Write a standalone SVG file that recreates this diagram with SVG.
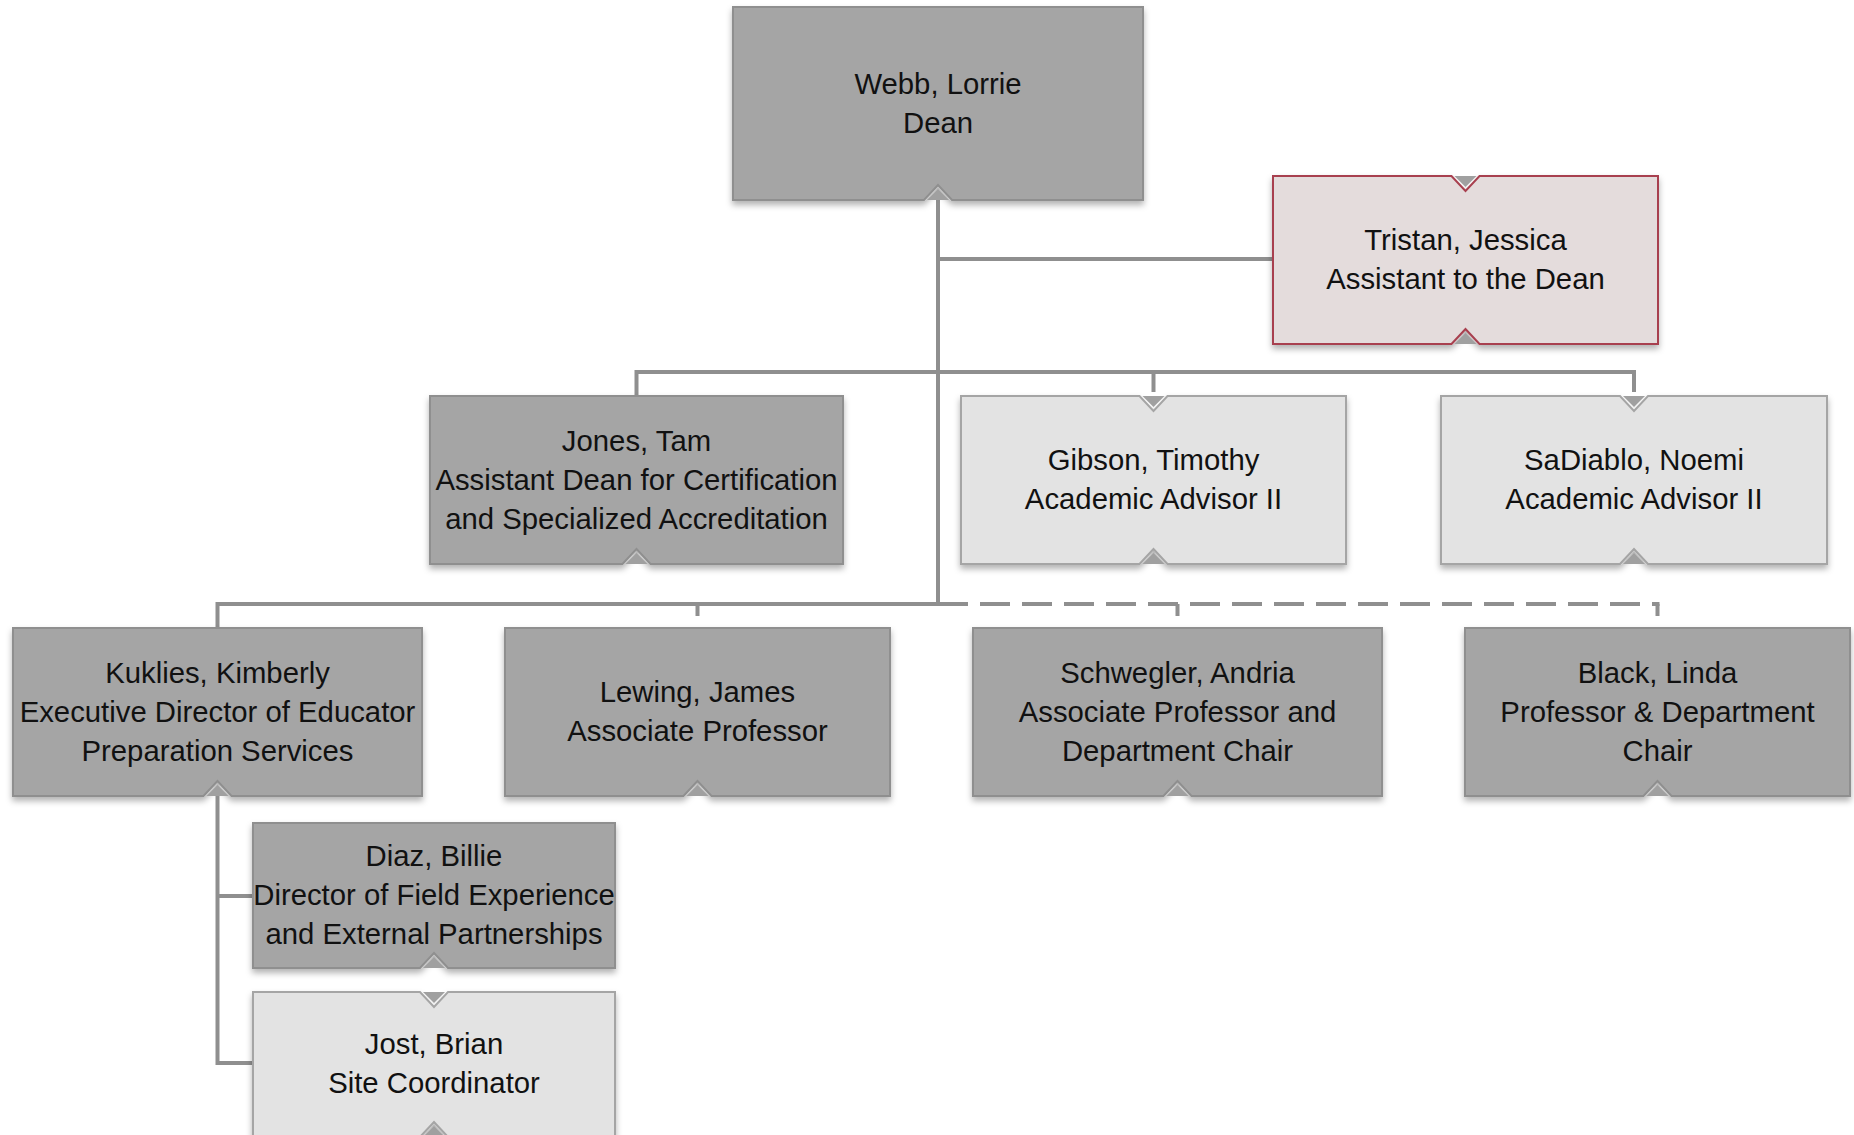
<svg xmlns="http://www.w3.org/2000/svg" width="1854" height="1135" viewBox="0 0 1854 1135">
<style>
.dark{fill:#a5a5a5;stroke:#8f8f8f;stroke-width:2;filter:url(#sh)}
.light{fill:#e3e3e3;stroke:#a5a5a5;stroke-width:2;filter:url(#sh)}
.pink{fill:#e4dcdc;stroke:#a8404f;stroke-width:2;filter:url(#sh)}
.tri{fill:#a0a0a0}
.conn{fill:none;stroke:#8f8f8f;stroke-width:4;stroke-linejoin:miter;stroke-linecap:butt}
.dash{stroke-dasharray:30 12}
text{font-family:"Liberation Sans",Arial,sans-serif;font-size:29.3px;fill:#111;text-anchor:middle}
</style>
<defs>
<filter id="sh" x="-10%" y="-10%" width="120%" height="130%">
<feDropShadow dx="0" dy="4" stdDeviation="3" flood-color="#000" flood-opacity="0.3"/>
</filter>
</defs>
<rect width="1854" height="1135" fill="#fff"/>
<g id="connectors">
<path class="conn" d="M938,200 V604"/>
<path class="conn" d="M938,259 H1273"/>
<path class="conn" d="M636.5,396 V372 H1634 V392"/>
<path class="conn" d="M1153.5,372 V392"/>
<path class="conn" d="M217.5,628 V604 H938"/>
<path class="conn" d="M697.5,604 V616"/>
<path class="conn dash" d="M938,604 H1659.5"/>
<path class="conn" d="M1177.5,604 V616"/>
<path class="conn" d="M1657.5,604 V616"/>
<path class="conn" d="M217.5,796 V1063 H253"/>
<path class="conn" d="M217.5,896 H253"/>
</g>
<g id="webb">
<path class="dark" d="M733,7 H1143 V200 H952 L938,185 L924,200 H733 Z"/>
<path class="tri" d="M927,200 L938,189 L949,200 Z"/>
<text x="938" y="93.5">Webb, Lorrie</text>
<text x="938" y="132.5">Dean</text>
</g>
<g id="tristan">
<path class="pink" d="M1273,176 H1451.5 L1465.5,191 L1479.5,176 H1658 V344 H1479.5 L1465.5,329 L1451.5,344 H1273 Z"/>
<path class="tri" d="M1454.5,176 L1465.5,187 L1476.5,176 Z"/>
<path class="tri" d="M1454.5,344 L1465.5,333 L1476.5,344 Z"/>
<text x="1465.5" y="250">Tristan, Jessica</text>
<text x="1465.5" y="289">Assistant to the Dean</text>
</g>
<g id="jones">
<path class="dark" d="M430,396 H843 V564 H650.5 L636.5,549 L622.5,564 H430 Z"/>
<path class="tri" d="M625.5,564 L636.5,553 L647.5,564 Z"/>
<text x="636.5" y="450.5">Jones, Tam</text>
<text x="636.5" y="489.5">Assistant Dean for Certification</text>
<text x="636.5" y="528.5">and Specialized Accreditation</text>
</g>
<g id="gibson">
<path class="light" d="M961,396 H1139.5 L1153.5,411 L1167.5,396 H1346 V564 H1167.5 L1153.5,549 L1139.5,564 H961 Z"/>
<path class="tri" d="M1142.5,396 L1153.5,407 L1164.5,396 Z"/>
<path class="tri" d="M1142.5,564 L1153.5,553 L1164.5,564 Z"/>
<text x="1153.5" y="470">Gibson, Timothy</text>
<text x="1153.5" y="509">Academic Advisor II</text>
</g>
<g id="sadiablo">
<path class="light" d="M1441,396 H1620 L1634,411 L1648,396 H1827 V564 H1648 L1634,549 L1620,564 H1441 Z"/>
<path class="tri" d="M1623,396 L1634,407 L1645,396 Z"/>
<path class="tri" d="M1623,564 L1634,553 L1645,564 Z"/>
<text x="1634" y="470">SaDiablo, Noemi</text>
<text x="1634" y="509">Academic Advisor II</text>
</g>
<g id="kuklies">
<path class="dark" d="M13,628 H422 V796 H231.5 L217.5,781 L203.5,796 H13 Z"/>
<path class="tri" d="M206.5,796 L217.5,785 L228.5,796 Z"/>
<text x="217.5" y="682.5">Kuklies, Kimberly</text>
<text x="217.5" y="721.5">Executive Director of Educator</text>
<text x="217.5" y="760.5">Preparation Services</text>
</g>
<g id="lewing">
<path class="dark" d="M505,628 H890 V796 H711.5 L697.5,781 L683.5,796 H505 Z"/>
<path class="tri" d="M686.5,796 L697.5,785 L708.5,796 Z"/>
<text x="697.5" y="702">Lewing, James</text>
<text x="697.5" y="741">Associate Professor</text>
</g>
<g id="schwegler">
<path class="dark" d="M973,628 H1382 V796 H1191.5 L1177.5,781 L1163.5,796 H973 Z"/>
<path class="tri" d="M1166.5,796 L1177.5,785 L1188.5,796 Z"/>
<text x="1177.5" y="682.5">Schwegler, Andria</text>
<text x="1177.5" y="721.5">Associate Professor and</text>
<text x="1177.5" y="760.5">Department Chair</text>
</g>
<g id="black">
<path class="dark" d="M1465,628 H1850 V796 H1671.5 L1657.5,781 L1643.5,796 H1465 Z"/>
<path class="tri" d="M1646.5,796 L1657.5,785 L1668.5,796 Z"/>
<text x="1657.5" y="682.5">Black, Linda</text>
<text x="1657.5" y="721.5">Professor &amp; Department</text>
<text x="1657.5" y="760.5">Chair</text>
</g>
<g id="diaz">
<path class="dark" d="M253,823 H615 V968 H448 L434,953 L420,968 H253 Z"/>
<path class="tri" d="M423,968 L434,957 L445,968 Z"/>
<text x="434" y="866">Diaz, Billie</text>
<text x="434" y="905">Director of Field Experience</text>
<text x="434" y="944">and External Partnerships</text>
</g>
<g id="jost">
<path class="light" d="M253,992 H420 L434,1007 L448,992 H615 V1137 H448 L434,1122 L420,1137 H253 Z"/>
<path class="tri" d="M423,992 L434,1003 L445,992 Z"/>
<path class="tri" d="M423,1137 L434,1126 L445,1137 Z"/>
<text x="434" y="1054">Jost, Brian</text>
<text x="434" y="1093">Site Coordinator</text>
</g>
</svg>
